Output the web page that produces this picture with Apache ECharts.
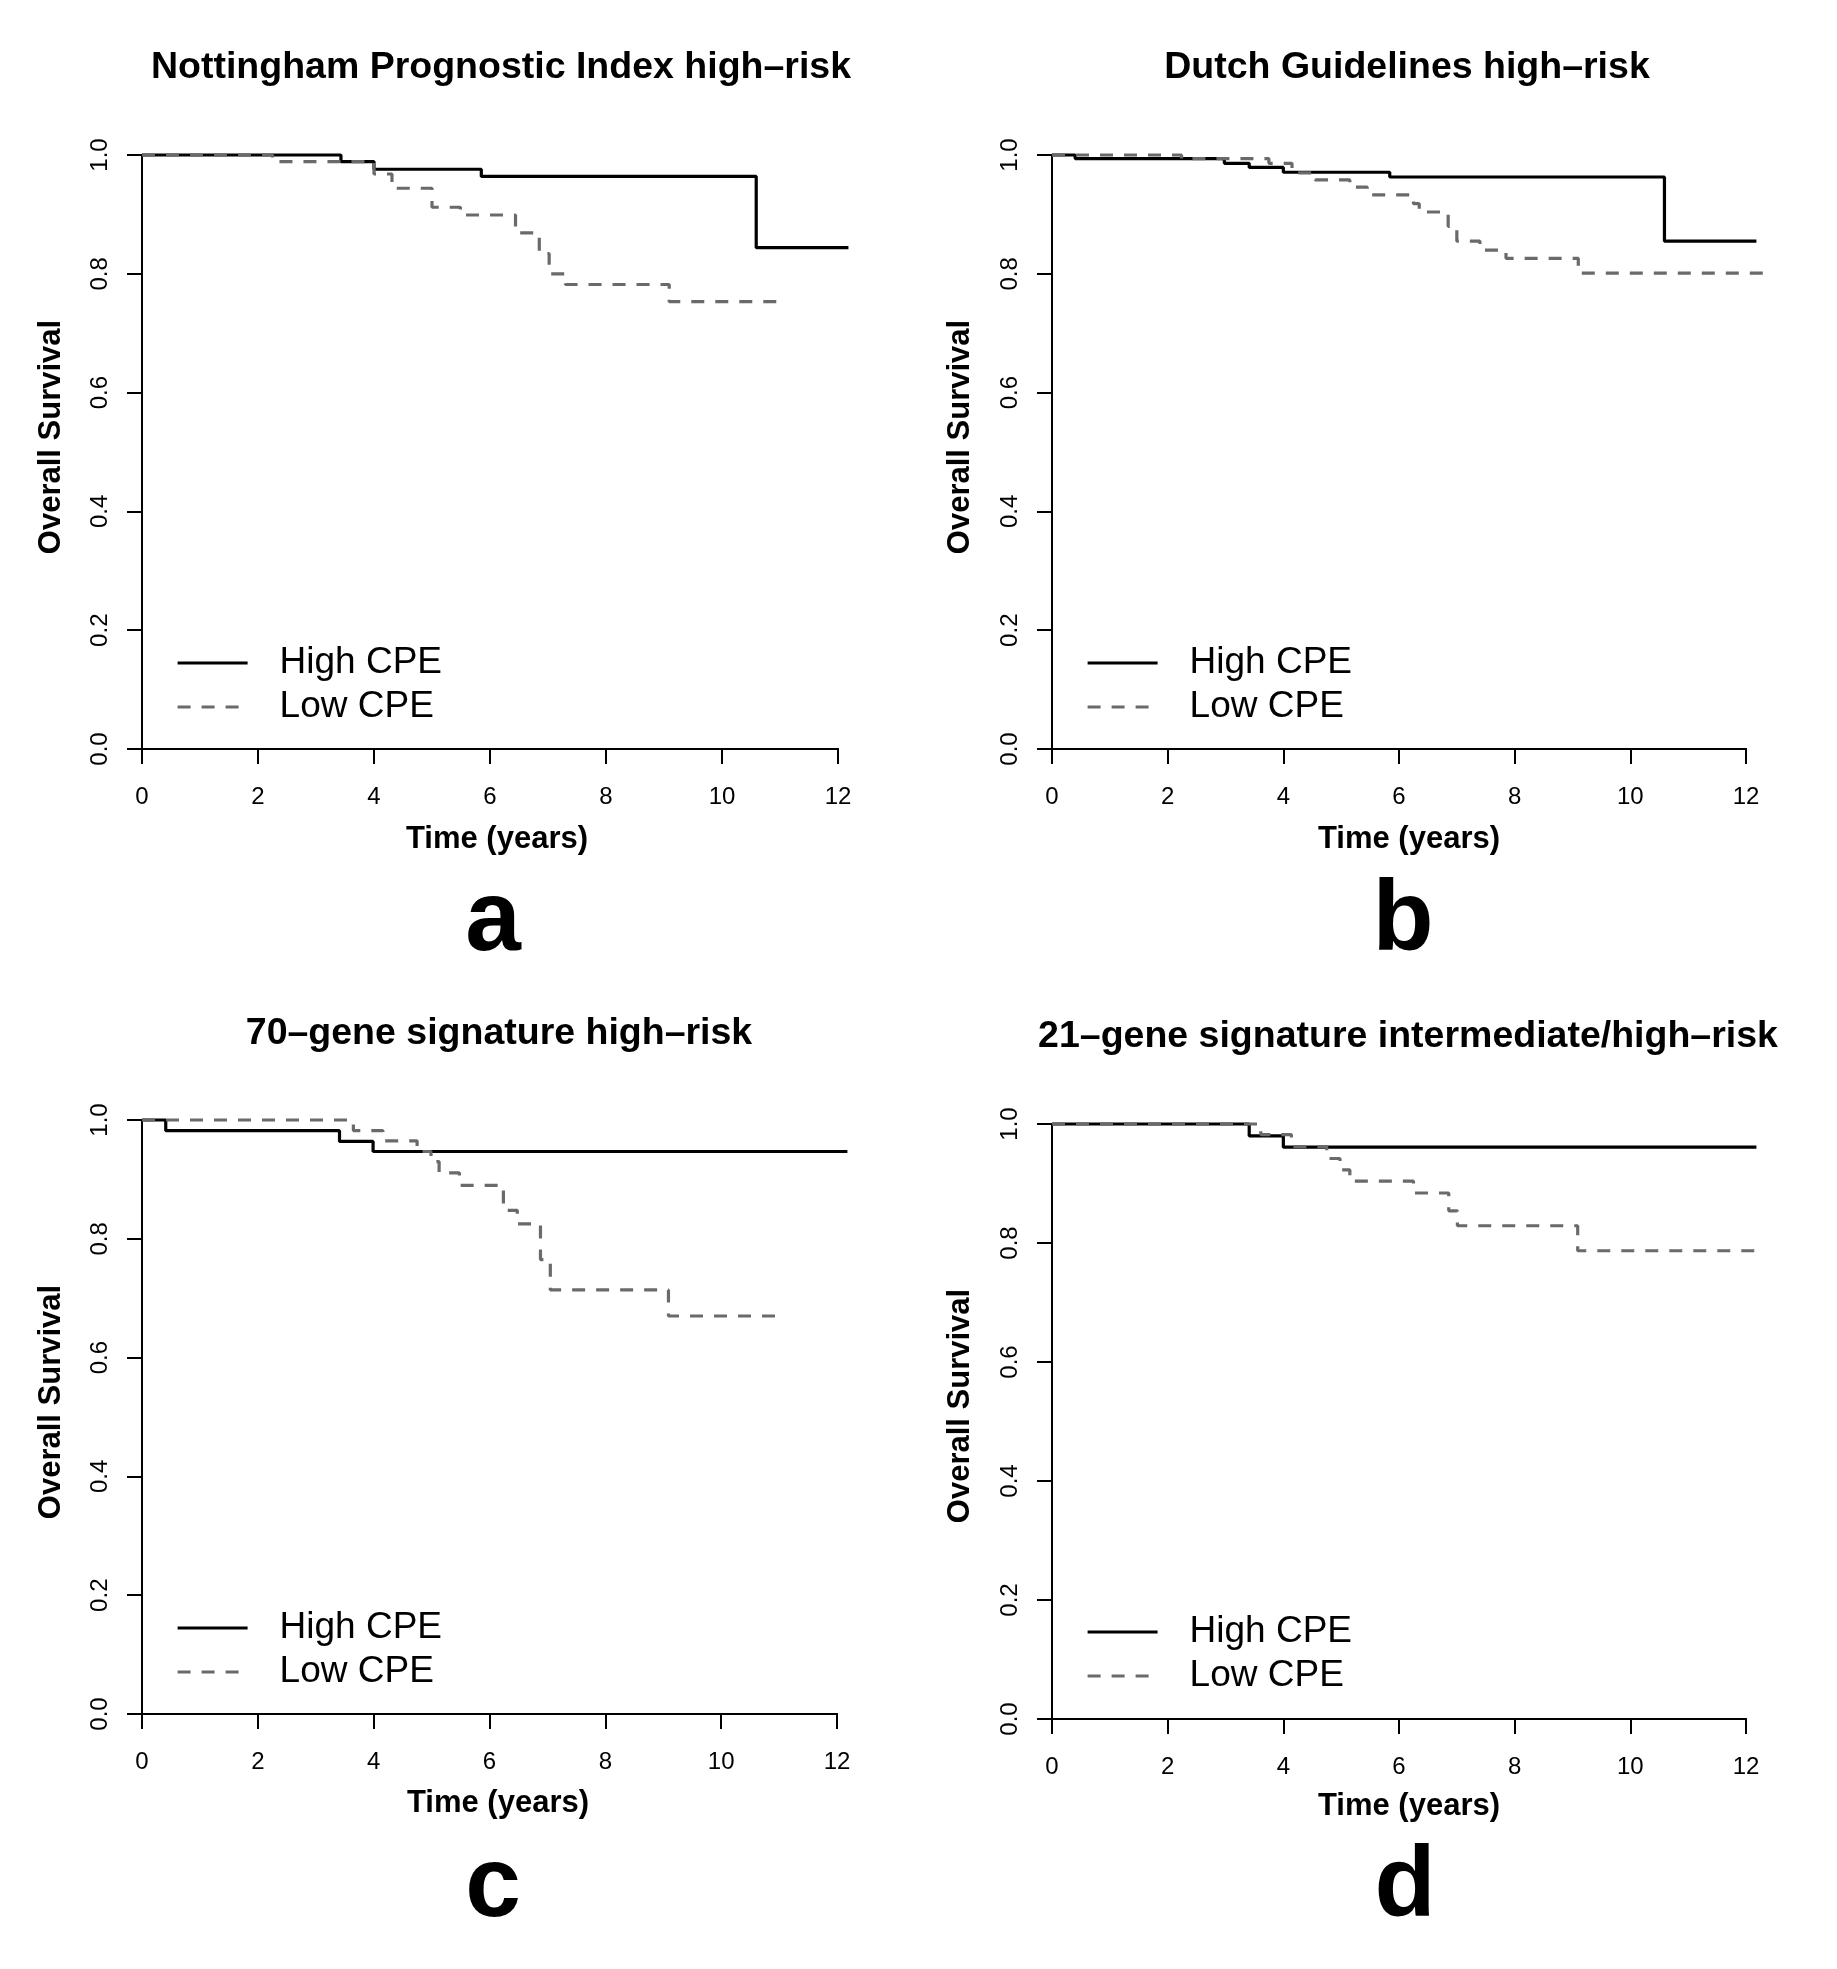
<!DOCTYPE html>
<html>
<head>
<meta charset="utf-8">
<script src="https://cdn.jsdelivr.net/npm/echarts@6/dist/echarts.min.js"></script>
<style>html,body{margin:0;padding:0;background:#fff}#c{width:1837px;height:1969px}</style>
</head>
<body>
<div id="c"></div>
<script>
// ---- Data ----
const panelTitles = ['Nottingham Prognostic Index high\u2013risk', 'Dutch Guidelines high\u2013risk', '70\u2013gene signature high\u2013risk', '21\u2013gene signature intermediate/high\u2013risk'];
const panelLetters = ['a', 'b', 'c', 'd'];
const seriesNames = ['High CPE', 'Low CPE'];
const xTicks = [0, 2, 4, 6, 8, 10, 12];
const yTicks = [0, 0.2, 0.4, 0.6, 0.8, 1.0];

// Panel a
const aHighT = [0, 3.43, 4.0, 5.85, 10.59, 12.18];
const aHighS = [1, 0.989, 0.976, 0.964, 0.844, 0.844];
const aLowT  = [0, 2.25, 4.0, 4.31, 5.0, 5.49, 6.44, 6.85, 7.02, 7.3, 9.09, 11.07];
const aLowS  = [1, 0.989, 0.968, 0.944, 0.912, 0.899, 0.869, 0.834, 0.800, 0.782, 0.753, 0.753];
// Panel b
const bHighT = [0, 0.40, 2.98, 3.41, 4.0, 5.84, 10.59, 12.18];
const bHighS = [1, 0.994, 0.986, 0.979, 0.971, 0.963, 0.855, 0.855];
const bLowT  = [0, 2.24, 3.75, 4.15, 4.55, 5.15, 5.45, 6.25, 6.35, 6.85, 7.0, 7.4, 7.85, 9.1, 12.34];
const bLowS  = [1, 0.994, 0.986, 0.970, 0.958, 0.946, 0.933, 0.918, 0.904, 0.880, 0.855, 0.840, 0.826, 0.801, 0.801];
// Panel c
const cHighT = [0, 0.41, 3.41, 3.99, 12.18];
const cHighS = [1, 0.982, 0.964, 0.947, 0.947];
const cLowT  = [0, 3.65, 4.16, 4.75, 4.99, 5.13, 5.48, 6.24, 6.48, 6.88, 7.05, 9.09, 11.07];
const cLowS  = [1, 0.982, 0.965, 0.947, 0.930, 0.911, 0.890, 0.848, 0.825, 0.765, 0.714, 0.670, 0.670];
// Panel d
const dHighT = [0, 3.41, 4.0, 12.18];
const dHighS = [1, 0.980, 0.961, 0.961];
const dLowT  = [0, 3.61, 4.14, 4.75, 4.98, 5.15, 6.25, 6.86, 7.01, 9.09, 12.33];
const dLowS  = [1, 0.982, 0.962, 0.942, 0.923, 0.904, 0.884, 0.854, 0.829, 0.787, 0.787];

const highT = [aHighT, bHighT, cHighT, dHighT];
const highS = [aHighS, bHighS, cHighS, dHighS];
const lowT  = [aLowT, bLowT, cLowT, dLowT];
const lowS  = [aLowS, bLowS, cLowS, dLowS];

// ---- Layout ----
const FONT = "'Liberation Sans', Arial, Helvetica, sans-serif";
const XMAX = 12.5;
// plot areas: pixel span of 0..12 years and 0..1 survival
const areas = [
  {left: 142, top: 155, w12: 696, height: 594},
  {left: 1052, top: 155, w12: 694, height: 594},
  {left: 142, top: 1120, w12: 695, height: 594},
  {left: 1052, top: 1124, w12: 694, height: 595}
];
const grids = areas.map(a => ({left: a.left, top: a.top, width: a.w12 * XMAX / 12, height: a.height, containLabel: false}));
const titlePos = [[501, 68], [1407, 68], [499, 1034], [1408, 1037]];
const letterPos = [[493, 922], [1403, 922], [493, 1888], [1405, 1888]];
const yNamePos = [[51, 437], [960, 437], [51, 1402], [960, 1406]];
const xNamePos = [[497, 839], [1409, 839], [498, 1803], [1409, 1806]];

const zip = (t, s) => t.map((v, i) => [v, s[i]]);
const LOWCOL = '#6a6a6a';
const LW = 3.2;

const option = {
  animation: false,
  backgroundColor: '#fff',
  grid: grids,
  xAxis: grids.map((g, i) => ({
    type: 'value', gridIndex: i, min: 0, max: XMAX,
    axisLine: {show: false},
    axisTick: {show: true, inside: false, length: 15, lineStyle: {color: '#000', width: 2}, customValues: xTicks},
    splitLine: {show: false},
    axisLabel: {show: true, margin: 36, fontSize: 24, color: '#000', fontFamily: FONT, customValues: xTicks}
  })),
  yAxis: grids.map((g, i) => ({
    type: 'value', gridIndex: i, min: 0, max: 1, interval: 0.2,
    axisLine: {show: true, lineStyle: {color: '#000', width: 2}},
    axisTick: {show: true, inside: false, length: 15, lineStyle: {color: '#000', width: 2}},
    splitLine: {show: false},
    axisLabel: {show: true, rotate: 90, margin: 30, fontSize: 24, color: '#000', fontFamily: FONT,
      formatter: v => v.toFixed(1)}
  })),
  legend: areas.map((g, i) => ({
    orient: 'vertical',
    left: g.left + 34,
    top: g.top + 488,
    padding: 0,
    itemWidth: 70,
    itemHeight: 16,
    itemGap: 4,
    selectedMode: false,
    itemStyle: {opacity: 0},
    lineStyle: {width: LW},
    data: seriesNames.map(n => ({name: n})),
    textStyle: {fontSize: 37, color: '#000', fontFamily: FONT, lineHeight: 40, padding: [0, 0, 0, 27]}
  })),
  series: []
};

for (let i = 0; i < 4; i++) {
  option.series.push({
    name: seriesNames[0], type: 'line', xAxisIndex: i, yAxisIndex: i, step: 'end',
    data: zip(highT[i], highS[i]), showSymbol: false, symbol: 'none', clip: false,
    lineStyle: {color: '#000', width: LW}, itemStyle: {color: '#000'}
  });
  option.series.push({
    name: seriesNames[1], type: 'line', xAxisIndex: i, yAxisIndex: i, step: 'end',
    data: zip(lowT[i], lowS[i]), showSymbol: false, symbol: 'none', clip: false,
    lineStyle: {color: LOWCOL, width: LW, type: [13, 11]}, itemStyle: {color: LOWCOL}
  });
}

const chart = echarts.init(document.getElementById('c'), null, {renderer: 'canvas'});
chart.setOption(option);

// texts and x-axis lines (axis line spans the ticks 0..12 only, like R's axis())
const graphic = [];
for (let i = 0; i < 4; i++) {
  const p0 = chart.convertToPixel({gridIndex: i}, [xTicks[0], 0]);
  const p1 = chart.convertToPixel({gridIndex: i}, [xTicks[xTicks.length - 1], 0]);
  graphic.push({type: 'line', shape: {x1: p0[0] - 1, y1: p0[1], x2: p1[0] + 1, y2: p1[1]}, style: {stroke: '#000', lineWidth: 2}, z: 10});
  graphic.push({type: 'text', x: titlePos[i][0], y: titlePos[i][1],
    style: {text: panelTitles[i], font: "bold 37.5px " + FONT, fill: '#000', align: 'center', verticalAlign: 'middle'}});
  graphic.push({type: 'text', x: letterPos[i][0], y: letterPos[i][1],
    style: {text: panelLetters[i], font: "bold 100px " + FONT, fill: '#000', align: 'center', verticalAlign: 'middle'}});
  graphic.push({type: 'text', x: xNamePos[i][0], y: xNamePos[i][1],
    style: {text: 'Time (years)', font: "bold 31px " + FONT, fill: '#000', align: 'center', verticalAlign: 'middle'}});
  graphic.push({type: 'text', x: yNamePos[i][0], y: yNamePos[i][1], rotation: Math.PI / 2,
    style: {text: 'Overall Survival', font: "bold 31px " + FONT, fill: '#000', align: 'center', verticalAlign: 'middle'}});
}
chart.setOption({graphic: graphic});
</script>
</body>
</html>
